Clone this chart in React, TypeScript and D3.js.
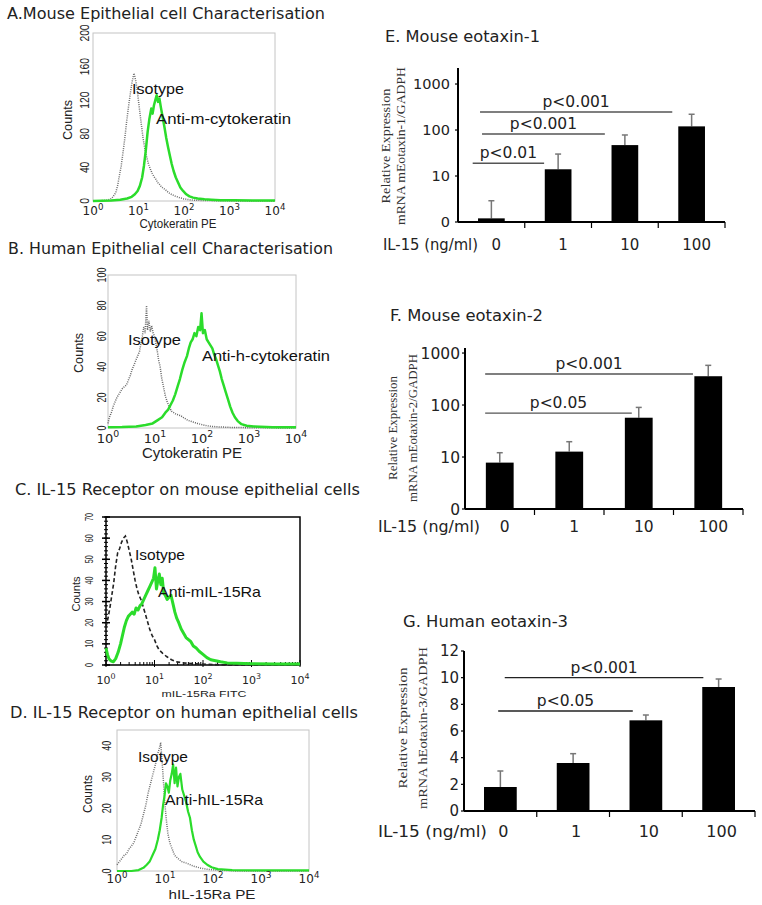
import React from "react";
import * as d3 from "d3";

const SANS = "'DejaVu Sans', Verdana, sans-serif";
const ARIAL = "'Liberation Sans', Arial, sans-serif";
const SERIF = "'Liberation Serif', 'Times New Roman', serif";
const GREEN = "#2bdc2b";

// flow cytometry x axis: decades 10^0 .. 10^4
const DECADES = [0, 1, 2, 3, 4];

// histograms: [log10 intensity, counts]
const A_ISOTYPE = [[0,0],[0.2,0.5],[0.3,1],[0.38,2],[0.44,5],[0.5,10],[0.54,18],[0.58,30],[0.62,42],[0.66,58],[0.7,75],[0.74,95],[0.78,112],[0.82,128],[0.86,142],[0.9,152],[0.92,148],[0.95,140],[0.98,128],[1.02,110],[1.06,92],[1.1,75],[1.14,62],[1.18,52],[1.22,44],[1.26,38],[1.3,33],[1.34,29],[1.38,26],[1.42,22],[1.46,20],[1.5,17],[1.55,15],[1.6,13],[1.66,10],[1.72,8],[1.8,6],[1.9,4],[2.0,2.5],[2.15,1.2],[2.4,0.6],[2.8,0.3],[3.2,0],[4,0]];
const A_ANTI = [[0,0],[0.4,0.5],[0.6,1.5],[0.75,3],[0.85,5],[0.92,8],[0.98,12],[1.03,18],[1.08,28],[1.12,42],[1.16,60],[1.2,82],[1.24,98],[1.28,110],[1.31,104],[1.34,114],[1.37,120],[1.4,126],[1.43,118],[1.46,122],[1.49,112],[1.53,100],[1.57,88],[1.61,75],[1.65,64],[1.69,54],[1.73,44],[1.77,36],[1.82,28],[1.87,22],[1.92,16],[1.98,12],[2.05,8],[2.12,5.5],[2.2,4],[2.3,3],[2.45,2],[2.6,1.5],[2.8,1],[3.1,0.8],[3.5,0.6],[4,0.5]];
const A_YTICKS = [0, 40, 80, 120, 160, 200];

const B_ISOTYPE = [[0,3],[0.03,7],[0.07,10],[0.11,14],[0.15,17],[0.19,20],[0.23,22],[0.27,24],[0.31,26],[0.35,27],[0.39,28],[0.43,31],[0.47,34],[0.51,38],[0.55,41],[0.59,44],[0.63,47],[0.67,50],[0.7,55],[0.73,60],[0.76,66],[0.79,62],[0.82,80],[0.84,64],[0.87,70],[0.9,63],[0.93,67],[0.96,62],[0.99,60],[1.02,55],[1.05,50],[1.08,44],[1.11,40],[1.14,33],[1.18,27],[1.22,21],[1.26,17],[1.3,14],[1.35,11],[1.4,10],[1.45,9],[1.5,8.5],[1.55,8],[1.62,6.5],[1.7,5],[1.8,4],[1.9,3],[2.0,2.2],[2.15,1.2],[2.3,0.8],[2.6,0.4],[3,0.2],[4,0]];
const B_ANTI = [[0,0.5],[0.3,0.6],[0.6,1],[0.8,2],[0.95,3],[1.05,5],[1.15,7],[1.22,10],[1.28,12],[1.33,15],[1.38,18],[1.43,22],[1.48,27],[1.53,32],[1.58,38],[1.63,43],[1.68,47],[1.72,52],[1.76,56],[1.8,58],[1.84,62],[1.88,60],[1.92,66],[1.96,64],[1.99,75],[2.02,62],[2.06,64],[2.1,58],[2.14,56],[2.18,54],[2.22,52],[2.26,48],[2.3,45],[2.34,41],[2.38,37],[2.42,32],[2.46,28],[2.5,24],[2.55,19],[2.6,14],[2.65,10],[2.7,7],[2.76,4.5],[2.84,2.5],[2.95,1.5],[3.1,1],[3.5,0.5],[4,0.5]];
const B_YTICKS = [0, 20, 40, 60, 80, 100];

const C_ISOTYPE = [[0,18],[0.04,22],[0.08,27],[0.12,33],[0.16,39],[0.2,47],[0.24,53],[0.28,55],[0.32,58],[0.36,60],[0.4,61],[0.44,58],[0.48,54],[0.52,50],[0.56,45],[0.6,40],[0.64,36],[0.68,33],[0.72,31],[0.76,28],[0.8,25],[0.85,21],[0.9,17],[0.95,14],[1.0,12],[1.05,9],[1.1,7],[1.17,5.5],[1.25,4],[1.35,2.5],[1.45,1.5],[1.6,1],[1.8,0.6],[2.1,0.3],[2.5,0],[4,0]];
const C_ANTI = [[0,8],[0.03,5],[0.06,3],[0.1,2],[0.15,1.5],[0.2,3],[0.25,6],[0.3,10],[0.34,14],[0.38,18],[0.42,21],[0.46,23],[0.5,24],[0.54,25],[0.58,24],[0.62,27],[0.66,26],[0.7,28],[0.74,29],[0.78,31],[0.82,33],[0.86,35],[0.9,37],[0.94,39],[0.98,41],[1.01,46],[1.04,36],[1.07,40],[1.1,43],[1.13,38],[1.16,41],[1.19,34],[1.22,33],[1.26,31],[1.3,32],[1.34,33],[1.38,29],[1.42,25],[1.46,22],[1.5,20],[1.55,17],[1.6,15],[1.65,13],[1.7,12],[1.75,11],[1.8,9],[1.86,8],[1.92,6.5],[2.0,5],[2.08,3.5],[2.16,2.5],[2.26,2],[2.36,1.5],[2.5,1],[2.7,0.8],[3,0.6],[3.5,0.5],[4,0.5]];
const C_YTICKS = [0, 10, 20, 30, 40, 50, 60, 70];

const D_ISOTYPE = [[0,2],[0.05,3],[0.1,4],[0.15,5],[0.2,5.5],[0.25,7],[0.3,8],[0.35,9],[0.4,11],[0.45,13],[0.5,15],[0.55,18],[0.6,21],[0.65,25],[0.7,28],[0.75,31],[0.8,34],[0.84,37],[0.88,39],[0.91,41],[0.94,35],[0.97,28],[1.0,21],[1.03,16],[1.06,12],[1.1,9],[1.15,7],[1.2,5],[1.27,4],[1.35,3],[1.45,2.5],[1.6,1.5],[1.75,0.9],[1.9,0.5],[2.1,0.3],[2.5,0],[4,0]];
const D_ANTI = [[0,0],[0.3,0],[0.45,0.3],[0.55,1],[0.62,2],[0.68,3],[0.74,5],[0.8,7],[0.85,10],[0.89,13],[0.93,17],[0.96,21],[0.99,24],[1.02,28],[1.05,27],[1.08,25],[1.11,29],[1.14,31],[1.17,34],[1.2,28],[1.23,33],[1.26,27],[1.29,30],[1.32,31],[1.36,26],[1.4,24],[1.44,22],[1.48,19],[1.52,17],[1.56,13],[1.6,10],[1.64,8],[1.68,6],[1.73,4.5],[1.8,3],[1.88,2],[1.97,1.2],[2.1,0.6],[2.4,0.3],[3,0.2],[4,0.2]];
const D_YTICKS = [0, 10, 20, 30, 40];

// qPCR bars
const DOSES = ["0", "1", "10", "100"];

const E_MEAN = [1.2, 14, 47, 120];
const E_SD = [1.7, 16, 31, 100];
const E_TICKS = [1, 10, 100, 1000];
const E_TICK_LABELS = ["0", "10", "100", "1000"];
// brackets: span in dose units, height in data units
const E_SIG = [
  { from: 0.22, to: 1.29, at: 19, label: "p<0.01" },
  { from: 0.36, to: 2.2, at: 82, label: "p<0.001" },
  { from: 0.33, to: 3.21, at: 246, label: "p<0.001" },
];

const F_MEAN = [7.8, 12.7, 57, 358];
const F_SD = [4.3, 7.0, 33, 222];
const F_TICKS = [1, 10, 100, 1000];
const F_TICK_LABELS = ["0", "10", "100", "1000"];
const F_SIG = [
  { from: 0.29, to: 2.4, at: 70, label: "p<0.05" },
  { from: 0.29, to: 3.28, at: 395, label: "p<0.001" },
];

const G_MEAN = [1.8, 3.6, 6.8, 9.3];
const G_SD = [1.2, 0.7, 0.4, 0.6];
const G_TICKS = [0, 2, 4, 6, 8, 10, 12];
const G_TICK_LABELS = ["0", "2", "4", "6", "8", "10", "12"];
const G_SIG = [
  { from: 0.47, to: 2.32, at: 7.5, label: "p<0.05" },
  { from: 0.56, to: 3.29, at: 10.0, label: "p<0.001" },
];

function Histogram(p: any) {
  const x = d3.scaleLog().domain([1, 1e4]).range([p.left, p.right]);
  const y = d3.scaleLinear().domain([0, p.yMax]).range([p.bottom, p.top]);
  const line = d3.line<number[]>()
    .x(d => x(Math.pow(10, d[0])))
    .y(d => y(d[1]));
  const minorX = x.ticks().filter(v => Math.abs(Math.log10(v) - Math.round(Math.log10(v))) > 1e-6);
  const minorY = y.ticks(p.yMax / 2);
  const cx = (p.left + p.right) / 2;

  return (
    <g>
      <rect x={p.left} y={p.top} width={p.right - p.left} height={p.bottom - p.top}
        fill="none" stroke={p.border} strokeWidth={p.borderWidth} />
      {p.minor && (
        <g stroke="#000" strokeWidth={1}>
          {minorX.map(v => <line key={"mx" + v} x1={x(v)} x2={x(v)} y1={p.bottom} y2={p.bottom - 3} />)}
          {DECADES.map(e => <line key={"Mx" + e} x1={x(Math.pow(10, e))} x2={x(Math.pow(10, e))} y1={p.bottom + 2} y2={p.bottom - 5} />)}
          {minorY.map(v => <line key={"my" + v} x1={p.left - 2} x2={p.left + 2} y1={y(v)} y2={y(v)} />)}
          {p.yTicks.map((t: number) => <line key={"My" + t} x1={p.left - 4} x2={p.left + 4} y1={y(t)} y2={y(t)} strokeWidth={1.5} />)}
        </g>
      )}
      <path d={line(p.iso) || ""} fill="none" stroke={p.isoColor} strokeWidth={p.isoWidth}
        strokeDasharray={p.isoDash} />
      <path d={line(p.anti) || ""} fill="none" stroke={GREEN} strokeWidth={p.antiWidth}
        strokeLinejoin="round" />

      {p.yTicks.map((t: number) => (
        <text key={"yt" + t} transform={`translate(${p.tickX},${y(t)}) rotate(-90)`}
          textAnchor="middle" fontFamily={ARIAL} fontSize={p.tickSize} fill="#222"
          textLength={String(t).length * p.digitLen} lengthAdjust="spacingAndGlyphs">{t}</text>
      ))}
      <text transform={`translate(${p.countsX},${p.countsY}) rotate(-90)`} textAnchor="middle"
        fontFamily={ARIAL} fontSize={p.countsSize} fill="#222"
        textLength={p.countsLen} lengthAdjust="spacingAndGlyphs">Counts</text>

      {DECADES.map(e => (
        <text key={"xt" + e} x={x(Math.pow(10, e))} y={p.xTickY} textAnchor="middle"
          fontFamily={SANS} fontSize={p.xTickSize} fill="#222">
          <tspan>10</tspan>
          <tspan dy={-p.xTickSize * 0.45} fontSize={p.xTickSize * 0.72}>{e}</tspan>
        </text>
      ))}
      <text x={cx + p.xLabelShift} y={p.xLabelY} textAnchor="middle" fontFamily={ARIAL}
        fontSize={p.xLabelSize} fill="#222" textLength={p.xLabelLen}
        lengthAdjust="spacingAndGlyphs">{p.xLabel}</text>

      <text x={p.isoAt[0]} y={p.isoAt[1]} fontFamily={ARIAL} fontSize={15} fill="#111"
        textLength={p.isoLen} lengthAdjust="spacingAndGlyphs">Isotype</text>
      <text x={p.antiAt[0]} y={p.antiAt[1]} fontFamily={ARIAL} fontSize={15} fill="#111"
        textLength={p.antiLen} lengthAdjust="spacingAndGlyphs">{p.antiLabel}</text>
    </g>
  );
}

function BarPanel(p: any) {
  const x = d3.scaleBand<string>().domain(DOSES).range([p.left, p.right])
    .paddingInner(p.pad).paddingOuter(p.pad / 2);
  const y = p.log
    ? d3.scaleLog().domain(p.domain).range([p.bottom, p.top])
    : d3.scaleLinear().domain(p.domain).range([p.bottom, p.top]);
  const step = x.step();
  const bw = x.bandwidth();
  const at = (f: number) => p.left + f * step;

  return (
    <g>
      {p.mean.map((m: number, i: number) => {
        const bx = x(DOSES[i]) as number;
        const c = bx + bw / 2;
        const top = y(m + p.sd[i]);
        return (
          <g key={i}>
            <line x1={c} x2={c} y1={y(m)} y2={top} stroke="#777" strokeWidth={1.5} />
            <line x1={c - 3} x2={c + 3} y1={top} y2={top} stroke="#777" strokeWidth={1.5} />
            <rect x={bx} y={y(m)} width={bw} height={p.bottom - y(m)} fill="#000" />
          </g>
        );
      })}

      <line x1={p.left} x2={p.left} y1={p.top} y2={p.bottom} stroke="#000" strokeWidth={2} />
      <line x1={p.left} x2={p.right} y1={p.bottom} y2={p.bottom} stroke="#000" strokeWidth={2} />
      {d3.range(1, DOSES.length + 1).map(i => (
        <line key={"xt" + i} x1={at(i)} x2={at(i)} y1={p.bottom} y2={p.bottom + 6}
          stroke="#000" strokeWidth={1.2} />
      ))}
      {p.ticks.map((t: number, i: number) => (
        <g key={"yt" + t}>
          <line x1={p.left - 3} x2={p.left} y1={y(t)} y2={y(t)} stroke="#000" strokeWidth={1.2} />
          <text x={p.left - p.tickGap} y={y(t)} dy="0.36em" textAnchor="end" fontFamily={SANS}
            fontSize={p.tickSize} fill="#222">{p.tickLabels[i]}</text>
        </g>
      ))}

      {p.sig.map((s: any, i: number) => (
        <g key={"sig" + i}>
          <line x1={at(s.from)} x2={at(s.to)} y1={y(s.at)} y2={y(s.at)} stroke={p.sigColor}
            strokeWidth={1.4} />
          <text x={(at(s.from) + at(s.to)) / 2} y={y(s.at) - 5} textAnchor="middle"
            fontFamily={SANS} fontSize={15.5} fill="#222">{s.label}</text>
        </g>
      ))}

      {DOSES.map(d => (
        <text key={"c" + d} x={(x(d) as number) + bw / 2 + p.labelShift} y={p.labelY}
          textAnchor="middle" fontFamily={SANS} fontSize={p.labelSize} fill="#222">{d}</text>
      ))}
      <text x={p.catTitleX} y={p.labelY} fontFamily={SANS} fontSize={16} fill="#222"
        textLength={p.catTitleLen} lengthAdjust="spacingAndGlyphs">IL-15 (ng/ml)</text>

      <text transform={`translate(${p.yTitleX[0]},${p.yTitleY}) rotate(-90)`} textAnchor="middle"
        fontFamily={SERIF} fontSize={13} fill="#333" textLength={p.yTitleLen[0]}
        lengthAdjust="spacingAndGlyphs">Relative Expression</text>
      <text transform={`translate(${p.yTitleX[1]},${p.yTitleY}) rotate(-90)`} textAnchor="middle"
        fontFamily={SERIF} fontSize={13} fill="#333" textLength={p.yTitleLen[1]}
        lengthAdjust="spacingAndGlyphs">{p.yTitle}</text>
    </g>
  );
}

function Title({ x, y, size, len, children }: any) {
  return (
    <text x={x} y={y} fontFamily={SANS} fontSize={size} fill="#222" textLength={len}
      lengthAdjust="spacingAndGlyphs">{children}</text>
  );
}

export default function App() {
  return (
    <svg width={762} height={905} style={{ position: "absolute", left: 0, top: 0, background: "#fff" }}>
      <rect width={762} height={905} fill="#fff" />

      <Title x={7} y={19} size={15} len={318}>A.Mouse Epithelial cell Characterisation</Title>
      <Histogram left={93} right={275} top={33} bottom={201} yMax={200} yTicks={A_YTICKS}
        iso={A_ISOTYPE} anti={A_ANTI} border="#c4c4c4" borderWidth={1}
        isoColor="#6f6f6f" isoWidth={1.5} isoDash="1 1.2" antiWidth={2.5}
        tickX={89} tickSize={13} digitLen={5.7}
        countsX={72} countsY={120} countsSize={12} countsLen={40}
        xTickY={215} xTickSize={12}
        xLabel="Cytokeratin PE" xLabelY={228} xLabelSize={12} xLabelLen={77} xLabelShift={-6}
        isoAt={[132, 94]} isoLen={52} antiAt={[156, 124]} antiLen={135} antiLabel="Anti-m-cytokeratin" />

      <Title x={8} y={254} size={15} len={325}>B. Human Epithelial cell Characterisation</Title>
      <Histogram left={108} right={296} top={275} bottom={428} yMax={100} yTicks={B_YTICKS}
        iso={B_ISOTYPE} anti={B_ANTI} border="#c4c4c4" borderWidth={1}
        isoColor="#666" isoWidth={1.5} isoDash="1 1.2" antiWidth={2.5}
        tickX={106} tickSize={12} digitLen={5}
        countsX={83} countsY={353} countsSize={12} countsLen={40}
        xTickY={443} xTickSize={13}
        xLabel="Cytokeratin PE" xLabelY={458} xLabelSize={14} xLabelLen={100} xLabelShift={-10}
        isoAt={[128, 345]} isoLen={53} antiAt={[202, 361]} antiLen={128} antiLabel="Anti-h-cytokeratin" />

      <Title x={15} y={495} size={15} len={345}>C. IL-15 Receptor on mouse epithelial cells</Title>
      <Histogram left={106} right={300} top={517} bottom={665} yMax={70} yTicks={C_YTICKS}
        iso={C_ISOTYPE} anti={C_ANTI} border="#000" borderWidth={1.5} minor
        isoColor="#222" isoWidth={1.6} isoDash="4 2.5" antiWidth={3}
        tickX={93} tickSize={10} digitLen={4}
        countsX={80} countsY={594} countsSize={10} countsLen={35}
        xTickY={684} xTickSize={11}
        xLabel="mIL-15Ra FITC" xLabelY={697} xLabelSize={9.5} xLabelLen={85} xLabelShift={1}
        isoAt={[135, 560]} isoLen={50} antiAt={[158, 597]} antiLen={103} antiLabel="Anti-mIL-15Ra" />

      <Title x={10} y={718} size={15} len={348}>D. IL-15 Receptor on human epithelial cells</Title>
      <Histogram left={117} right={309} top={730} bottom={871} yMax={45} yTicks={D_YTICKS}
        iso={D_ISOTYPE} anti={D_ANTI} border="#c4c4c4" borderWidth={1}
        isoColor="#6f6f6f" isoWidth={1.5} isoDash="1 1.2" antiWidth={2.2}
        tickX={111} tickSize={13} digitLen={5}
        countsX={92} countsY={794} countsSize={13} countsLen={38}
        xTickY={883} xTickSize={12}
        xLabel="hIL-15Ra PE" xLabelY={899} xLabelSize={12} xLabelLen={87} xLabelShift={-1}
        isoAt={[138, 762]} isoLen={50} antiAt={[165, 805]} antiLen={98} antiLabel="Anti-hIL-15Ra" />

      <Title x={385} y={42} size={16} len={155}>E. Mouse eotaxin-1</Title>
      <BarPanel left={458} right={725} top={68} bottom={222} log domain={[1, 2230]}
        mean={E_MEAN} sd={E_SD} ticks={E_TICKS} tickLabels={E_TICK_LABELS} sig={E_SIG}
        pad={0.6} tickGap={8} tickSize={14.5} sigColor="#555"
        labelY={250} labelSize={15} labelShift={5} catTitleX={383} catTitleLen={95}
        yTitle="mRNA mEotaxin-1/GADPH" yTitleX={[390, 405]} yTitleY={146} yTitleLen={[115, 158]} />

      <Title x={390} y={321} size={16} len={153}>F. Mouse eotaxin-2</Title>
      <BarPanel left={465} right={743} top={348} bottom={509} log domain={[1, 1250]}
        mean={F_MEAN} sd={F_SD} ticks={F_TICKS} tickLabels={F_TICK_LABELS} sig={F_SIG}
        pad={0.6} tickGap={5} tickSize={15.5} sigColor="#555"
        labelY={532} labelSize={15.5} labelShift={5} catTitleX={378} catTitleLen={102}
        yTitle="mRNA mEotaxin-2/GADPH" yTitleX={[397, 417]} yTitleY={428} yTitleLen={[104, 148]} />

      <Title x={403} y={627} size={16} len={165}>G. Human eotaxin-3</Title>
      <BarPanel left={464} right={755} top={651} bottom={811} domain={[0, 12]}
        mean={G_MEAN} sd={G_SD} ticks={G_TICKS} tickLabels={G_TICK_LABELS} sig={G_SIG}
        pad={0.55} tickGap={5} tickSize={15} sigColor="#222"
        labelY={837} labelSize={16} labelShift={3} catTitleX={378} catTitleLen={109}
        yTitle="mRNA hEotaxin-3/GADPH" yTitleX={[407, 427]} yTitleY={728} yTitleLen={[121, 162]} />
    </svg>
  );
}
